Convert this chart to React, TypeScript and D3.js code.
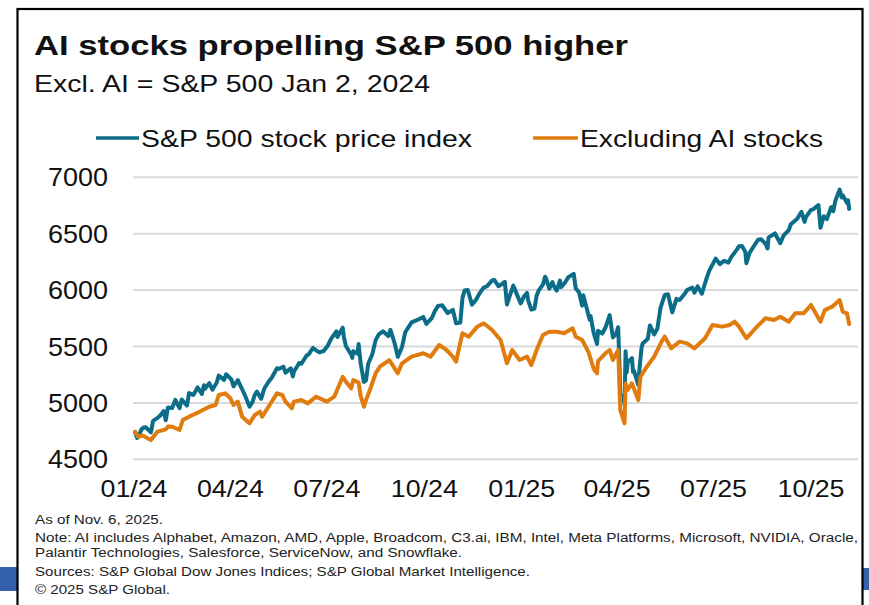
import * as d3 from 'd3';

// S&P 500 daily closes (sampled)
const spxDates = [
  '2024-01-02', '2024-01-04', '2024-01-05', '2024-01-08', '2024-01-10', '2024-01-12', '2024-01-17', '2024-01-19',
  '2024-01-23', '2024-01-26', '2024-01-29', '2024-01-31', '2024-02-02', '2024-02-06', '2024-02-09', '2024-02-13',
  '2024-02-15', '2024-02-20', '2024-02-22', '2024-02-26', '2024-03-01', '2024-03-05', '2024-03-07', '2024-03-08',
  '2024-03-12', '2024-03-15', '2024-03-19', '2024-03-21', '2024-03-26', '2024-03-28', '2024-04-02', '2024-04-04',
  '2024-04-08', '2024-04-10', '2024-04-12', '2024-04-15', '2024-04-19', '2024-04-22', '2024-04-24', '2024-04-26',
  '2024-04-30', '2024-05-03', '2024-05-07', '2024-05-10', '2024-05-15', '2024-05-17', '2024-05-21', '2024-05-23',
  '2024-05-28', '2024-05-30', '2024-05-31', '2024-06-05', '2024-06-07', '2024-06-12', '2024-06-14', '2024-06-18',
  '2024-06-21', '2024-06-24', '2024-06-28', '2024-07-02', '2024-07-05', '2024-07-10', '2024-07-11', '2024-07-16',
  '2024-07-17', '2024-07-19', '2024-07-24', '2024-07-25', '2024-07-26', '2024-07-30', '2024-07-31', '2024-08-02',
  '2024-08-05', '2024-08-07', '2024-08-09', '2024-08-13', '2024-08-16', '2024-08-19', '2024-08-23', '2024-08-28',
  '2024-08-30', '2024-09-03', '2024-09-06', '2024-09-10', '2024-09-13', '2024-09-19', '2024-09-24', '2024-09-30',
  '2024-10-03', '2024-10-08', '2024-10-11', '2024-10-14', '2024-10-18', '2024-10-23', '2024-10-25', '2024-10-28',
  '2024-10-31', '2024-11-04', '2024-11-06', '2024-11-08', '2024-11-11', '2024-11-15', '2024-11-19', '2024-11-22',
  '2024-11-26', '2024-11-29', '2024-12-04', '2024-12-06', '2024-12-10', '2024-12-13', '2024-12-16', '2024-12-18',
  '2024-12-20', '2024-12-24', '2024-12-27', '2024-12-31', '2025-01-03', '2025-01-06', '2025-01-07', '2025-01-10',
  '2025-01-13', '2025-01-15', '2025-01-17', '2025-01-21', '2025-01-23', '2025-01-24', '2025-01-27', '2025-01-30',
  '2025-01-31', '2025-02-03', '2025-02-06', '2025-02-07', '2025-02-11', '2025-02-14', '2025-02-19', '2025-02-21',
  '2025-02-24', '2025-02-27', '2025-02-28', '2025-03-03', '2025-03-06', '2025-03-07', '2025-03-10', '2025-03-13',
  '2025-03-14', '2025-03-18', '2025-03-21', '2025-03-25', '2025-03-28', '2025-03-31', '2025-04-02', '2025-04-03',
  '2025-04-04', '2025-04-07', '2025-04-08', '2025-04-09', '2025-04-10', '2025-04-11', '2025-04-15', '2025-04-16',
  '2025-04-17', '2025-04-21', '2025-04-22', '2025-04-24', '2025-04-25', '2025-04-30', '2025-05-02', '2025-05-06',
  '2025-05-09', '2025-05-12', '2025-05-16', '2025-05-19', '2025-05-23', '2025-05-27', '2025-05-30', '2025-06-04',
  '2025-06-06', '2025-06-11', '2025-06-13', '2025-06-16', '2025-06-20', '2025-06-24', '2025-06-27', '2025-07-03',
  '2025-07-07', '2025-07-11', '2025-07-15', '2025-07-18', '2025-07-23', '2025-07-25', '2025-07-28', '2025-07-31',
  '2025-08-01', '2025-08-04', '2025-08-08', '2025-08-12', '2025-08-15', '2025-08-19', '2025-08-21', '2025-08-22',
  '2025-08-28', '2025-09-02', '2025-09-05', '2025-09-10', '2025-09-12', '2025-09-18', '2025-09-22', '2025-09-25',
  '2025-09-26', '2025-10-01', '2025-10-03', '2025-10-08', '2025-10-10', '2025-10-13', '2025-10-16', '2025-10-20',
  '2025-10-22', '2025-10-24', '2025-10-28', '2025-10-30', '2025-10-31', '2025-11-04', '2025-11-05', '2025-11-06',
];
const spxValues = [
  4743, 4689, 4697, 4764, 4783, 4784, 4739, 4840,
  4865, 4891, 4928, 4846, 4959, 4954, 5027, 4953,
  5030, 4976, 5087, 5070, 5137, 5079, 5157, 5124,
  5175, 5117, 5179, 5242, 5204, 5254, 5206, 5147,
  5202, 5161, 5123, 5062, 4967, 5011, 5072, 5100,
  5036, 5128, 5188, 5223, 5308, 5303, 5321, 5268,
  5306, 5235, 5278, 5354, 5347, 5421, 5432, 5487,
  5465, 5448, 5460, 5509, 5567, 5634, 5585, 5667,
  5588, 5505, 5427, 5399, 5459, 5436, 5522, 5347,
  5186, 5200, 5344, 5434, 5554, 5608, 5635, 5592,
  5648, 5529, 5408, 5496, 5626, 5714, 5733, 5762,
  5700, 5751, 5815, 5860, 5865, 5797, 5808, 5824,
  5705, 5713, 5929, 5996, 6001, 5871, 5917, 5969,
  6022, 6032, 6086, 6090, 6035, 6051, 6074, 5872,
  5931, 6040, 5971, 5882, 5942, 5975, 5909, 5827,
  5836, 5950, 5997, 6049, 6119, 6101, 6012, 6071,
  6041, 5995, 6084, 6026, 6069, 6115, 6144, 6013,
  5983, 5862, 5955, 5850, 5739, 5770, 5615, 5522,
  5639, 5615, 5668, 5777, 5581, 5612, 5671, 5397,
  5074, 5062, 4983, 5457, 5268, 5363, 5397, 5276,
  5283, 5158, 5288, 5485, 5525, 5569, 5687, 5607,
  5660, 5844, 5958, 5964, 5803, 5922, 5912, 5970,
  6000, 6022, 5977, 6033, 5968, 6092, 6173, 6279,
  6230, 6260, 6244, 6297, 6359, 6389, 6390, 6339,
  6238, 6330, 6389, 6446, 6450, 6411, 6370, 6467,
  6502, 6416, 6482, 6532, 6584, 6632, 6694, 6605,
  6644, 6711, 6716, 6754, 6553, 6655, 6629, 6735,
  6699, 6792, 6891, 6822, 6840, 6772, 6796, 6720,
];

// S&P 500 excluding AI stocks
const exAiDates = [
  '2024-01-02', '2024-01-05', '2024-01-09', '2024-01-17', '2024-01-23', '2024-01-31', '2024-02-02', '2024-02-06',
  '2024-02-13', '2024-02-16', '2024-02-22', '2024-02-29', '2024-03-06', '2024-03-12', '2024-03-18', '2024-03-21',
  '2024-03-27', '2024-04-01', '2024-04-04', '2024-04-08', '2024-04-12', '2024-04-19', '2024-04-24', '2024-04-29',
  '2024-05-01', '2024-05-08', '2024-05-15', '2024-05-20', '2024-05-23', '2024-05-29', '2024-05-31', '2024-06-07',
  '2024-06-13', '2024-06-21', '2024-07-01', '2024-07-08', '2024-07-16', '2024-07-19', '2024-07-24', '2024-07-26',
  '2024-07-31', '2024-08-02', '2024-08-05', '2024-08-07', '2024-08-12', '2024-08-16', '2024-08-20', '2024-08-29',
  '2024-09-06', '2024-09-10', '2024-09-19', '2024-09-30', '2024-10-07', '2024-10-15', '2024-10-22', '2024-10-28',
  '2024-10-31', '2024-11-06', '2024-11-12', '2024-11-20', '2024-11-26', '2024-12-04', '2024-12-12', '2024-12-18',
  '2024-12-23', '2024-12-30', '2025-01-06', '2025-01-10', '2025-01-15', '2025-01-21', '2025-01-27', '2025-02-03',
  '2025-02-10', '2025-02-18', '2025-02-21', '2025-02-27', '2025-03-05', '2025-03-10', '2025-03-13', '2025-03-14',
  '2025-03-21', '2025-03-25', '2025-03-28', '2025-04-02', '2025-04-03', '2025-04-04', '2025-04-08', '2025-04-09',
  '2025-04-11', '2025-04-15', '2025-04-21', '2025-04-23', '2025-04-29', '2025-05-06', '2025-05-13', '2025-05-16',
  '2025-05-22', '2025-05-30', '2025-06-06', '2025-06-13', '2025-06-23', '2025-06-30', '2025-07-09', '2025-07-16',
  '2025-07-21', '2025-07-25', '2025-08-01', '2025-08-04', '2025-08-11', '2025-08-19', '2025-08-27', '2025-09-02',
  '2025-09-10', '2025-09-16', '2025-09-24', '2025-10-01', '2025-10-10', '2025-10-14', '2025-10-21', '2025-10-28',
  '2025-10-31', '2025-11-04', '2025-11-06',
];
const exAiValues = [
  4743, 4700, 4712, 4671, 4745, 4765, 4790, 4789,
  4760, 4848, 4878, 4908, 4937, 4966, 4981, 5070,
  5085, 5041, 4981, 5011, 4878, 4819, 4893, 4922,
  4878, 4981, 5085, 5070, 5011, 4952, 5011, 5025,
  4996, 5055, 5011, 5055, 5232, 5188, 5129, 5203,
  5180, 5060, 4966, 5025, 5150, 5260, 5321, 5380,
  5262, 5351, 5410, 5440, 5410, 5513, 5469, 5410,
  5365, 5617, 5587, 5676, 5706, 5646, 5558, 5351,
  5469, 5380, 5410, 5336, 5469, 5602, 5631, 5631,
  5617, 5661, 5587, 5558, 5450, 5300, 5262, 5370,
  5440, 5469, 5380, 5469, 5200, 4937, 4819, 5173,
  5114, 5173, 5025, 5232, 5321, 5410, 5543, 5587,
  5484, 5543, 5528, 5484, 5573, 5690, 5676, 5690,
  5720, 5676, 5573, 5602, 5676, 5750, 5735, 5764,
  5720, 5794, 5794, 5868, 5720, 5823, 5853, 5912,
  5808, 5794, 5699,
];

const yTicks = [4500, 5000, 5500, 6000, 6500, 7000];
const xTickDates = ['2024-01-01', '2024-04-01', '2024-07-01', '2024-10-01', '2025-01-01', '2025-04-01', '2025-07-01', '2025-10-01'];
const xTickLabels = ['01/24', '04/24', '07/24', '10/24', '01/25', '04/25', '07/25', '10/25'];

const seriesNames = ['S&P 500 stock price index', 'Excluding AI stocks'];
const seriesColors = ['#0c6d88', '#e07b0e'];

const footnotes = [
  'As of Nov. 6, 2025.',
  'Note: AI includes Alphabet, Amazon, AMD, Apple, Broadcom, C3.ai, IBM, Intel, Meta Platforms, Microsoft, NVIDIA, Oracle,',
  'Palantir Technologies, Salesforce, ServiceNow, and Snowflake.',
  'Sources: S&P Global Dow Jones Indices; S&P Global Market Intelligence.',
  '\u00a9 2025 S&P Global.',
];
// the source image is stretched sideways, so text widths are fitted to it
const footnoteWidths = [128, 823, 427, 495, 135];

const W = 869;
const H = 605;
const FONT = '"Liberation Sans", Arial, Helvetica, sans-serif';
const parse = d3.utcParse('%Y-%m-%d');

export default function App() {
  const plotLeft = 133;
  const plotRight = 858;
  const plotTop = 177.3;
  const plotBottom = 459.3;

  // Jan 2024 tick sits at x=134, Oct 2025 tick at x=811
  const x = d3.scaleUtc()
    .domain([parse('2024-01-01'), parse('2025-10-01')])
    .range([134, 811]);

  const y = d3.scaleLinear()
    .domain([4500, 7000])
    .range([plotBottom, plotTop]);

  const line = d3.line<[Date, number]>()
    .x(d => x(d[0]))
    .y(d => y(d[1]));

  const spx: [Date, number][] = spxDates.map((d, i) => [parse(d)!, spxValues[i]]);
  const exAi: [Date, number][] = exAiDates.map((d, i) => [parse(d)!, exAiValues[i]]);

  const footY = [524, 542, 557, 576, 594];

  return (
    <svg width={W} height={H} style={{ position: 'absolute', left: 0, top: 0, background: '#fff' }} fontFamily={FONT}>
      <rect x={0} y={0} width={W} height={H} fill="#fff" />
      {/* blue slide bars behind the frame */}
      <rect x={0} y={567} width={17} height={24} fill="#3461a9" />
      <rect x={863} y={568} width={6} height={22} fill="#3461a9" />
      {/* frame */}
      <rect x={17.5} y={9} width={845} height={H} fill="none" stroke="#000" strokeWidth={2.2} />

      <text x={34} y={55} fontSize={28} fontWeight="bold" fill="#111" textLength={594} lengthAdjust="spacingAndGlyphs">
        AI stocks propelling S&amp;P 500 higher
      </text>
      <text x={34} y={92} fontSize={24} fill="#111" textLength={396} lengthAdjust="spacingAndGlyphs">
        Excl. AI = S&amp;P 500 Jan 2, 2024
      </text>

      {/* legend */}
      <line x1={96} x2={139} y1={138} y2={138} stroke={seriesColors[0]} strokeWidth={3.5} />
      <text x={141} y={147} fontSize={24} fill="#111" textLength={331} lengthAdjust="spacingAndGlyphs">{seriesNames[0]}</text>
      <line x1={533} x2={578} y1={138} y2={138} stroke={seriesColors[1]} strokeWidth={3.5} />
      <text x={580} y={147} fontSize={24} fill="#111" textLength={243} lengthAdjust="spacingAndGlyphs">{seriesNames[1]}</text>

      {/* gridlines and y labels */}
      {yTicks.map(t => (
        <g key={t}>
          <line x1={plotLeft} x2={plotRight} y1={y(t)} y2={y(t)} stroke="#d9d9d9" strokeWidth={2} />
          <text x={108} y={y(t)} dy="0.36em" textAnchor="end" fontSize={25} fill="#111" textLength={60} lengthAdjust="spacingAndGlyphs">{t}</text>
        </g>
      ))}

      {/* x labels */}
      {xTickDates.map((d, i) => (
        <text key={d} x={x(parse(d)!)} y={497} textAnchor="middle" fontSize={24} fill="#111" textLength={67} lengthAdjust="spacingAndGlyphs">{xTickLabels[i]}</text>
      ))}

      <path d={line(spx)!} fill="none" stroke={seriesColors[0]} strokeWidth={4} strokeLinejoin="round" strokeLinecap="round" />
      <path d={line(exAi)!} fill="none" stroke={seriesColors[1]} strokeWidth={4} strokeLinejoin="round" strokeLinecap="round" />

      {footnotes.map((f, i) => (
        <text key={i} x={35} y={footY[i]} fontSize={12.5} fill="#222" textLength={footnoteWidths[i]} lengthAdjust="spacingAndGlyphs">{f}</text>
      ))}
    </svg>
  );
}
